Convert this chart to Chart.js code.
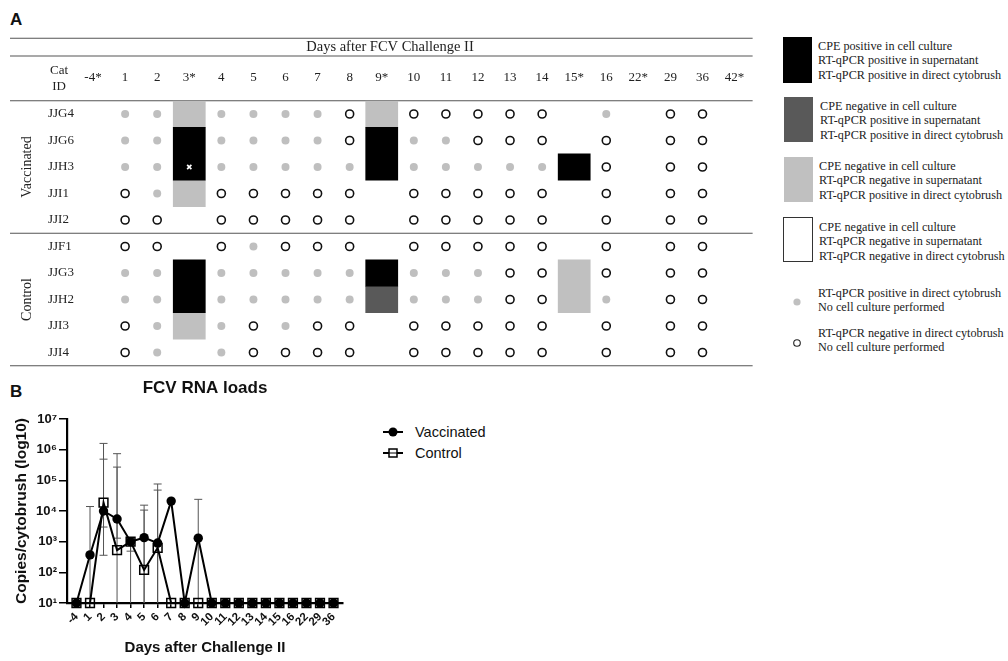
<!DOCTYPE html>
<html>
<head>
<meta charset="utf-8">
<script src="https://cdn.jsdelivr.net/npm/chart.js@4.4.1/dist/chart.umd.min.js"></script>
<style>
html,body{margin:0;padding:0;background:#fff;}
body{width:1008px;height:661px;position:relative;overflow:hidden;font-family:"Liberation Sans",Arial,sans-serif;color:#111;}
.abs{position:absolute;}
.panel{font-weight:bold;font-size:17px;line-height:17px;color:#111;}
.leg{position:absolute;font-family:"Liberation Serif",serif;font-size:12.2px;line-height:14.6px;color:#222;white-space:nowrap;}
.legB{position:absolute;font-family:"Liberation Sans",Arial,sans-serif;font-size:14.5px;line-height:18px;color:#111;white-space:nowrap;}
</style>
</head>
<body>
<div class="abs panel" style="left:10px;top:10.8px">A</div>
<div class="abs panel" style="left:10px;top:382.8px">B</div>

<div class="abs" style="left:0;top:0;width:760px;height:374px"><canvas id="cA" width="760" height="374" style="width:760px;height:374px"></canvas></div>
<div class="abs" style="left:0;top:370px;width:360px;height:291px"><canvas id="cB" width="360" height="291" style="width:360px;height:291px"></canvas></div>

<!-- legend panel A -->
<div class="abs" style="left:783px;top:37px;width:29px;height:46px;background:#000"></div>
<div class="leg" style="left:818px;top:38.7px">CPE positive in cell culture<br>RT-qPCR positive in supernatant<br>RT-qPCR positive in direct cytobrush</div>
<div class="abs" style="left:784px;top:97px;width:29px;height:45px;background:#595959"></div>
<div class="leg" style="left:820px;top:98.7px">CPE negative in cell culture<br>RT-qPCR positive in supernatant<br>RT-qPCR positive in direct cytobrush</div>
<div class="abs" style="left:784px;top:157px;width:29px;height:45px;background:#c0c0c0"></div>
<div class="leg" style="left:819px;top:158.7px">CPE negative in cell culture<br>RT-qPCR negative in supernatant<br>RT-qPCR positive in direct cytobrush</div>
<div class="abs" style="left:783px;top:217px;width:28px;height:43px;background:#fff;border:1px solid #333"></div>
<div class="leg" style="left:819px;top:219.7px">CPE negative in cell culture<br>RT-qPCR negative in supernatant<br>RT-qPCR negative in direct cytobrush</div>
<svg class="abs" style="left:790px;top:295px" width="14" height="56">
  <circle cx="7" cy="7" r="3.6" fill="#c0c0c0"/>
  <circle cx="7" cy="48" r="3.3" fill="none" stroke="#222" stroke-width="1.1"/>
</svg>
<div class="leg" style="left:818px;top:285.7px">RT-qPCR positive in direct cytobrush<br>No cell culture performed</div>
<div class="leg" style="left:818px;top:325.7px">RT-qPCR negative in direct cytobrush<br>No cell culture performed</div>

<!-- legend panel B -->
<svg class="abs" style="left:380px;top:420px" width="30" height="45">
  <line x1="3" y1="12" x2="23" y2="12" stroke="#000" stroke-width="2"/>
  <circle cx="13" cy="12" r="4.5" fill="#000"/>
  <line x1="3" y1="33" x2="23" y2="33" stroke="#000" stroke-width="2"/>
  <rect x="9" y="29" width="8" height="8" fill="#fff" stroke="#000" stroke-width="1.5"/>
  <line x1="9" y1="33" x2="17" y2="33" stroke="#000" stroke-width="1"/>
</svg>
<div class="legB" style="left:415px;top:423px">Vaccinated</div>
<div class="legB" style="left:415px;top:444px">Control</div>

<script>
// ---------------- Panel A data ----------------
const days = ['-4*','1','2','3*','4','5','6','7','8','9*','10','11','12','13','14','15*','16','22*','29','36','42*'];
const cats = ['JJG4','JJG6','JJH3','JJI1','JJI2','JJF1','JJG3','JJH2','JJI3','JJI4'];
const groupNames = ['Vaccinated','Control'];
const groupFirst = ['JJG4','JJF1'];
const groupLast = ['JJI2','JJI4'];
// direct cytobrush RT-qPCR per cat and day: g = positive, o = negative, - = no dot
const cytobrush = [
  '-gg-ggggo-ooooo-g-oo-', // JJG4
  '-gg-ggggo-ggooo-o-oo-', // JJG6
  '-gg-ggggg-ggggg-o-oo-', // JJH3
  '-og-ooooo-ooooo-o-oo-', // JJI1
  '-oo-ooooo-ooooo-o-oo-', // JJI2
  '-oo-ogooo-ooooo-o-oo-', // JJF1
  '-gg-ggggg-gggoo-o-oo-', // JJG3
  '-gg-ggggg-gggoo-g-oo-', // JJH2
  '-og-gogoo-ooooo-o-oo-', // JJI3
  '-og-goooo-ooooo-o-oo-'  // JJI4
];
// cell culture results (spans of cats on one day)
const cultureDay    = ['3*','3*','3*','3*','3*','9*','9*','9*','9*','15*','15*'];
const cultureFrom   = ['JJG4','JJG6','JJI1','JJG3','JJI3','JJG4','JJG6','JJG3','JJH2','JJH3','JJG3'];
const cultureTo     = ['JJG4','JJH3','JJI1','JJH2','JJI3','JJG4','JJH3','JJG3','JJH2','JJH3','JJH2'];
const cultureResult = ['cyto','cpe','cyto','cpe','cyto','cyto','cpe','cpe','rna','cpe','cyto'];
const resultKinds  = ['cpe','rna','cyto'];
const resultColors = ['#000000','#595959','#c0c0c0'];
const markDay = ['3*'];
const markCat = ['JJH3'];

// ---------------- Panel B data ----------------
const bDays = ['-4','1','2','3','4','5','6','7','8','9','10','11','12','13','14','15','16','22','29','36'];
const vaccMean  = [10, 370, 10000, 5500, 1000, 1350, 900, 21000, 10, 1300, 10,10,10,10,10,10,10,10,10,10];
const vaccUpper = [null, 14000, 490000, 270000, null, 15500, 76000, null, null, 24000, null,null,null,null,null,null,null,null,null,null];
const vaccLower = [null, 0, 360, 1300, 490, 0, 0, null, null, 0, null,null,null,null,null,null,null,null,null,null];
const ctrlMean  = [10, 10, 18600, 530, 1000, 120, 630, 10, 10, 10, 10,10,10,10,10,10,10,10,10,10];
const ctrlUpper = [null, null, 1600000, 740000, null, 10700, 48000, null, null, null, null,null,null,null,null,null,null,null,null,null];
const ctrlLower = [null, null, 3000, 0, 0, 0, 0, null, null, null, null,null,null,null,null,null,null,null,null,null];
const yTicks = [10, 100, 1000, 10000, 100000, 1000000, 10000000];
const yTickLabels = ['10\u00B9','10\u00B2','10\u00B3','10\u2074','10\u2075','10\u2076','10\u2077'];

Chart.defaults.font.family = '"Liberation Sans", Arial, sans-serif';
const SERIF = '"Liberation Serif", "Times New Roman", serif';

// ---------------- Panel A chart ----------------
const dotsOf = (code) => {
  const pts = [];
  cytobrush.forEach((row, r) => {
    row.split('').forEach((c, d) => { if (c === code) pts.push({x: days[d], y: r}); });
  });
  return pts;
};

const tableDecor = {
  id: 'tableDecor',
  beforeDatasetsDraw(chart) {
    const {ctx, chartArea: a, scales: {y}} = chart;
    const left = 10, right = a.right + 2;
    ctx.save();
    ctx.strokeStyle = '#555';
    ctx.lineWidth = 1.2;
    const sepIdx = cats.indexOf(groupLast[0]) + 0.5;
    const rules = [a.top - 62.5, a.top - 44.75, y.getPixelForValue(-0.5), y.getPixelForValue(sepIdx), y.getPixelForValue(cats.length - 0.5)];
    rules.forEach(py => { ctx.beginPath(); ctx.moveTo(left, py); ctx.lineTo(right, py); ctx.stroke(); });
    ctx.fillStyle = '#222';
    ctx.textAlign = 'center';
    ctx.textBaseline = 'middle';
    ctx.font = '14.5px ' + SERIF;
    ctx.fillText('Days after FCV Challenge II', a.left + 313, a.top - 53.75);
    ctx.font = '13px ' + SERIF;
    ctx.fillText('Cat', 59, a.top - 30.5);
    ctx.fillText('ID', 59, a.top - 14.5);
    groupNames.forEach((g, i) => {
      const mid = (cats.indexOf(groupFirst[i]) + cats.indexOf(groupLast[i])) / 2;
      ctx.save();
      ctx.translate(27, y.getPixelForValue(mid));
      ctx.rotate(-Math.PI / 2);
      ctx.font = '14px ' + SERIF;
      ctx.fillText(g, 0, 0);
      ctx.restore();
    });
    ctx.restore();
  }
};

const barSets = resultKinds.map((kind, k) => ({
  type: 'bar',
  data: cultureResult.map((r, i) => r === kind ? {x: cultureDay[i], y: [cats.indexOf(cultureFrom[i]) - 0.5, cats.indexOf(cultureTo[i]) + 0.5]} : null).filter(Boolean),
  backgroundColor: resultColors[k],
  borderWidth: 0,
  grouped: false,
  barPercentage: 1,
  categoryPercentage: 1,
  order: 3
}));

new Chart(document.getElementById('cA'), {
  type: 'bar',
  data: {
    labels: days,
    datasets: [
      ...barSets,
      {type: 'scatter', data: dotsOf('g'), pointRadius: 4, backgroundColor: '#bfbfbf', borderWidth: 0, order: 2},
      {type: 'scatter', data: dotsOf('o'), pointRadius: 4, backgroundColor: 'rgba(255,255,255,0)', borderColor: '#111', borderWidth: 1.6, order: 2},
      {type: 'scatter', data: markDay.map((d, i) => ({x: d, y: cats.indexOf(markCat[i])})), pointStyle: 'crossRot', pointRadius: 3, borderColor: '#fff', borderWidth: 1.7, order: 1}
    ]
  },
  options: {
    responsive: false,
    animation: false,
    events: [],
    layout: {padding: {left: 48, right: 7, top: 0, bottom: 8.25}},
    plugins: {legend: {display: false}, tooltip: {enabled: false}},
    scales: {
      x: {
        type: 'category', position: 'top', offset: true,
        grid: {display: false, drawTicks: false}, border: {display: false},
        ticks: {autoSkip: false, maxRotation: 0, minRotation: 0, padding: 15.5, color: '#222', font: {family: SERIF, size: 13}},
        afterFit: (s) => { s.height = 100.75; }
      },
      y: {
        type: 'linear', reverse: true, min: -0.5, max: 9.5,
        grid: {display: false, drawTicks: false}, border: {display: false},
        afterBuildTicks: (s) => { s.ticks = cats.map((c, i) => ({value: i})); },
        ticks: {autoSkip: false, crossAlign: 'far', padding: 0, color: '#222', font: {family: SERIF, size: 13}, callback: (v) => cats[v]},
        afterFit: (s) => { s.width = 29; }
      }
    }
  },
  plugins: [tableDecor]
});

// ---------------- Panel B chart ----------------
const errorBars = {
  id: 'errorBars',
  beforeDatasetsDraw(chart) {
    const {ctx, chartArea: a, scales: {x, y}} = chart;
    ctx.save();
    ctx.strokeStyle = '#555';
    ctx.lineWidth = 1;
    chart.data.datasets.forEach(ds => {
      ds.data.forEach((p, i) => {
        const up = ds.errUpper[i], lo = ds.errLower[i];
        if (up == null && lo == null) return;
        const px = x.getPixelForValue(p.x);
        const mid = y.getPixelForValue(p.y);
        const top = up != null ? y.getPixelForValue(up) : mid;
        let bot = mid, capBot = false;
        if (lo != null) {
          if (lo <= y.min) { bot = a.bottom; } else { bot = y.getPixelForValue(lo); capBot = true; }
        }
        ctx.beginPath();
        ctx.moveTo(px, top); ctx.lineTo(px, bot);
        if (up != null) { ctx.moveTo(px - 4, top); ctx.lineTo(px + 4, top); }
        if (capBot) { ctx.moveTo(px - 4, bot); ctx.lineTo(px + 4, bot); }
        ctx.stroke();
      });
    });
    ctx.restore();
  }
};

new Chart(document.getElementById('cB'), {
  type: 'line',
  data: {
    datasets: [
      {label: 'Vaccinated', data: vaccMean.map((v, i) => ({x: i, y: v})), errUpper: vaccUpper, errLower: vaccLower,
       borderColor: '#000', borderWidth: 2, tension: 0, pointStyle: 'circle', pointRadius: 4.7,
       pointBackgroundColor: '#000', pointBorderColor: '#000', pointBorderWidth: 0, clip: 12, order: 2},
      {label: 'Control', data: ctrlMean.map((v, i) => ({x: i, y: v})), errUpper: ctrlUpper, errLower: ctrlLower,
       borderColor: '#000', borderWidth: 2, tension: 0, pointStyle: 'rect', pointRadius: 6.2,
       pointBackgroundColor: 'rgba(255,255,255,0)', pointBorderColor: '#000', pointBorderWidth: 1.5, clip: 12, order: 1}
    ]
  },
  options: {
    responsive: false,
    animation: false,
    events: [],
    layout: {padding: {left: 0, right: 17, top: 0, bottom: 0}},
    plugins: {
      legend: {display: false}, tooltip: {enabled: false},
      title: {display: true, text: 'FCV RNA loads', fullSize: false, color: '#111',
              font: {size: 17, weight: 'bold'}, padding: {top: 7.8, bottom: 20.8}}
    },
    scales: {
      x: {
        type: 'linear', min: -0.7, max: 19.7,
        afterBuildTicks: (s) => { s.ticks = bDays.map((d, i) => ({value: i})); },
        ticks: {autoSkip: false, minRotation: 45, maxRotation: 45, padding: 2, color: '#111',
                font: {size: 11.5, weight: 'bold'}, callback: (v) => bDays[v]},
        grid: {display: true, drawOnChartArea: false, drawTicks: true, tickLength: 5, color: '#000', lineWidth: 1.5},
        border: {display: true, color: '#000', width: 2.2},
        title: {display: true, text: 'Days after Challenge II', color: '#111', font: {size: 15, weight: 'bold'}, padding: {top: 0, bottom: 4}},
        afterFit: (s) => { s.height = 58; }
      },
      y: {
        type: 'logarithmic', min: 10, max: 10000000,
        afterBuildTicks: (s) => { s.ticks = yTicks.map(v => ({value: v})); },
        ticks: {autoSkip: false, padding: 2, color: '#111', font: {size: 13, weight: 'bold'}, callback: (v, i) => yTickLabels[i]},
        grid: {display: true, drawOnChartArea: false, drawTicks: true, tickLength: 8, color: '#000', lineWidth: 1.5},
        border: {display: true, color: '#000', width: 2.2},
        title: {display: true, text: 'Copies/cytobrush (log10)', color: '#111', font: {size: 15.5, weight: 'bold'}, padding: {top: 12.7, bottom: 0}},
        afterFit: (s) => { s.width = 67; }
      }
    }
  },
  plugins: [errorBars]
});
</script>
</body>
</html>
